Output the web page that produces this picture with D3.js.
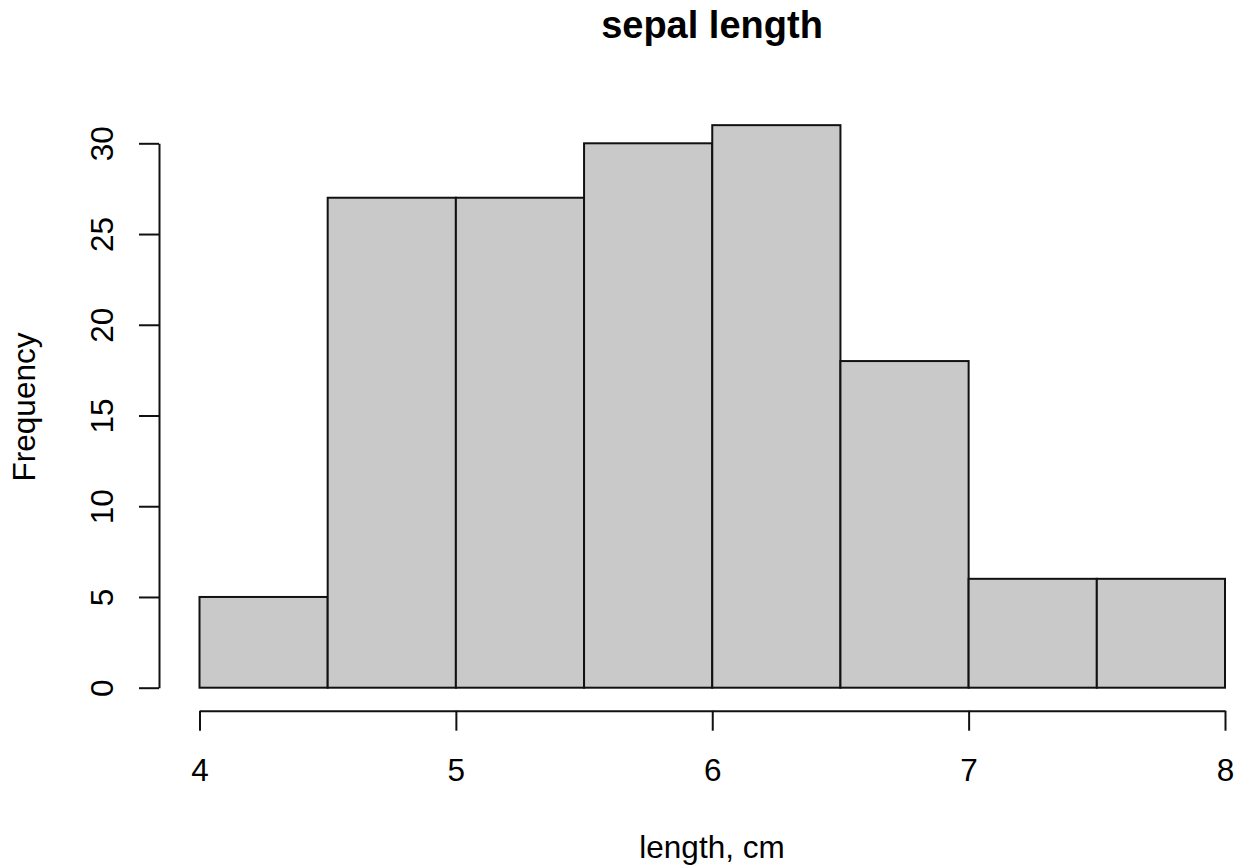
<!DOCTYPE html>
<html>
<head>
<meta charset="utf-8">
<script src="https://cdn.jsdelivr.net/npm/d3@7"></script>
<style>
  html, body { margin: 0; padding: 0; background: #ffffff; }
  svg { display: block; font-family: "Liberation Sans", Arial, Helvetica, sans-serif; }
</style>
</head>
<body>
<svg id="chart" width="1237" height="865"></svg>
<script>
// Histogram of sepal length: bin edges (cm) and counts per bin
const binEdges = [4, 4.5, 5, 5.5, 6, 6.5, 7, 7.5, 8];
const counts = [5, 27, 27, 30, 31, 18, 6, 6];
const xTicks = [4, 5, 6, 7, 8];
const yTicks = [0, 5, 10, 15, 20, 25, 30];

const titleText = "sepal length";
const xLabel = "length, cm";
const yLabel = "Frequency";

const svg = d3.select("#chart");

const x = d3.scaleLinear().domain([4, 8]).range([199.5, 1225]);
const y = d3.scaleLinear().domain([0, 30]).range([687.7, 143.3]);

const bins = counts.map((c, i) => ({ x0: binEdges[i], x1: binEdges[i + 1], count: c }));

// Bars
svg.append("g")
  .selectAll("rect")
  .data(bins)
  .join("rect")
  .attr("x", d => x(d.x0))
  .attr("y", d => y(d.count))
  .attr("width", d => x(d.x1) - x(d.x0))
  .attr("height", d => y(0) - y(d.count))
  .attr("fill", "#c9c9c9")
  .attr("stroke", "#111")
  .attr("stroke-width", 2);

// Y axis (R-style, detached from the bars)
const yAxis = svg.append("g")
  .attr("transform", "translate(159,0)")
  .call(d3.axisLeft(y).tickValues(yTicks).tickSize(20).tickSizeOuter(0).tickFormat(d3.format("d")));
yAxis.select(".domain").attr("stroke", "#111").attr("stroke-width", 2);
yAxis.selectAll(".tick line").attr("stroke", "#111").attr("stroke-width", 2);
yAxis.selectAll(".tick text")
  .attr("transform", "rotate(-90)")
  .attr("x", 0)
  .attr("y", -46)
  .attr("dy", null)
  .attr("text-anchor", "middle")
  .attr("fill", "#000")
  .style("font-size", "31.5px");

// X axis
const xAxis = svg.append("g")
  .attr("transform", "translate(0,710.7)")
  .call(d3.axisBottom(x).tickValues(xTicks).tickSize(20).tickSizeOuter(0).tickFormat(d3.format("d")));
xAxis.select(".domain").attr("stroke", "#111").attr("stroke-width", 2);
xAxis.selectAll(".tick line").attr("stroke", "#111").attr("stroke-width", 2);
xAxis.selectAll(".tick text")
  .attr("y", 70.5)
  .attr("dy", null)
  .attr("fill", "#000")
  .style("font-size", "31.5px");

// Title and axis labels
svg.append("text")
  .attr("x", 712)
  .attr("y", 38)
  .attr("text-anchor", "middle")
  .style("font-size", "38px")
  .style("font-weight", "bold")
  .text(titleText);

svg.append("text")
  .attr("x", 712)
  .attr("y", 858)
  .attr("text-anchor", "middle")
  .style("font-size", "31.5px")
  .text(xLabel);

svg.append("text")
  .attr("transform", "translate(35,407) rotate(-90)")
  .attr("text-anchor", "middle")
  .style("font-size", "31.5px")
  .text(yLabel);
</script>
</body>
</html>
